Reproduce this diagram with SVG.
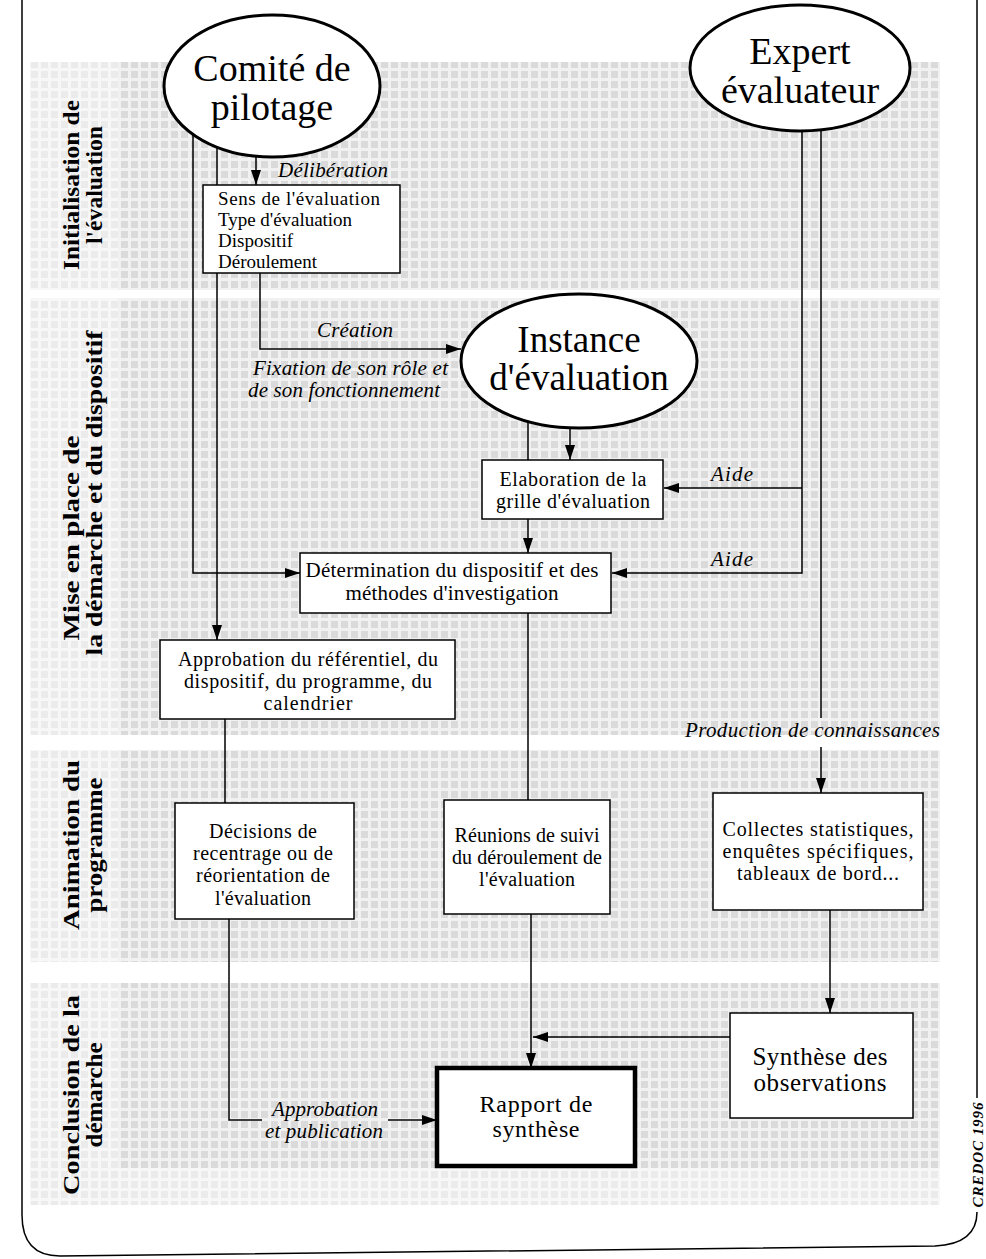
<svg xmlns="http://www.w3.org/2000/svg" width="986" height="1259" viewBox="0 0 986 1259">
<defs>
<pattern id="ht" width="10" height="10" patternUnits="userSpaceOnUse"><rect width="10" height="10" fill="#f1f1f1"/><rect x="1" y="1" width="7" height="7" fill="#dadada"/></pattern>
<pattern id="htl" width="10" height="10" patternUnits="userSpaceOnUse"><rect width="10" height="10" fill="#f7f7f7"/><rect x="1" y="1" width="7" height="7" fill="#ebebeb"/></pattern>
<marker id="ah" viewBox="0 0 15 10" refX="15" refY="5" markerWidth="15" markerHeight="10" orient="auto" markerUnits="userSpaceOnUse"><path d="M0,0 L15,5 L0,10 z" fill="#000"/></marker>
</defs>
<style>
.box{fill:#fff;stroke:#000;stroke-width:1.5}
.ell{fill:#fff;stroke:#000;stroke-width:3}
.t{font-family:"Liberation Serif","Times New Roman",serif;fill:#000;text-anchor:middle}
.s{text-anchor:start}
.it{font-style:italic;font-size:21px}
.ln{fill:none;stroke:#000;stroke-width:1.5}
.arr{marker-end:url(#ah)}
.side{font-weight:bold;font-size:24px}
</style>
<rect width="986" height="1259" fill="#fff"/>
<g id="background">
<rect x="30" y="62" width="88" height="228" fill="url(#htl)"/>
<rect x="30" y="298" width="88" height="437" fill="url(#htl)"/>
<rect x="30" y="750" width="88" height="212" fill="url(#htl)"/>
<rect x="30" y="983" width="88" height="222" fill="url(#htl)"/>
<rect x="118" y="62" width="822" height="228" fill="url(#ht)"/>
<rect x="118" y="298" width="822" height="437" fill="url(#ht)"/>
<rect x="118" y="750" width="822" height="212" fill="url(#ht)"/>
<rect x="118" y="983" width="822" height="185" fill="url(#ht)"/>
<rect x="118" y="1168" width="822" height="37" fill="url(#htl)"/>
</g>
<g id="frame">
<path class="ln" d="M22,0 V1215 Q22,1256 60,1256 L935,1246 Q977,1244 977,1212"/>
<path class="ln" d="M977,0 V1098"/>
<text class="t" x="983" y="1155" transform="rotate(-90 983 1155)" style="font-weight:bold;font-style:italic;font-size:15px" textLength="105">CREDOC 1996</text>
</g>
<g id="phase-labels">
<text class="t side" x="79" y="185" transform="rotate(-90 79 185)" textLength="170" lengthAdjust="spacingAndGlyphs">Initialisation de</text>
<text class="t side" x="102" y="185" transform="rotate(-90 102 185)" textLength="118" lengthAdjust="spacingAndGlyphs">l'évaluation</text>
<text class="t side" x="79" y="538" transform="rotate(-90 79 538)" textLength="205" lengthAdjust="spacingAndGlyphs">Mise en place de</text>
<text class="t side" x="102" y="493" transform="rotate(-90 102 493)" textLength="325" lengthAdjust="spacingAndGlyphs">la démarche et du dispositif</text>
<text class="t side" x="79" y="845" transform="rotate(-90 79 845)" textLength="170" lengthAdjust="spacingAndGlyphs">Animation du</text>
<text class="t side" x="102" y="845" transform="rotate(-90 102 845)" textLength="135" lengthAdjust="spacingAndGlyphs">programme</text>
<text class="t side" x="79" y="1095" transform="rotate(-90 79 1095)" textLength="200" lengthAdjust="spacingAndGlyphs">Conclusion de la</text>
<text class="t side" x="102" y="1095" transform="rotate(-90 102 1095)" textLength="105" lengthAdjust="spacingAndGlyphs">démarche</text>
</g>
<g id="connectors">
<path class="ln arr" d="M193,134 V573 H300"/>
<path class="ln arr" d="M217,147 V640"/>
<path class="ln arr" d="M256,156 V185"/>
<path class="ln arr" d="M260,273 V349 H461"/>
<path class="ln arr" d="M570,428 V460"/>
<path class="ln arr" d="M528,421 V553"/>
<path class="ln arr" d="M802,131 V573 H612"/>
<path class="ln arr" d="M802,488 H664"/>
<path class="ln" d="M821,130 V718"/>
<path class="ln arr" d="M821,747 V793"/>
<path class="ln" d="M225,719 V803"/>
<path class="ln" d="M528,613 V800"/>
<path class="ln" d="M229,919 V1120 H262"/>
<path class="ln arr" d="M388,1120 H437"/>
<path class="ln arr" d="M531,914 V1068"/>
<path class="ln arr" d="M730,1037 H533"/>
<path class="ln arr" d="M830,910 V1013"/>
<text class="t s it" x="278" y="177" textLength="110">Délibération</text>
<text class="t s it" x="317" y="337" textLength="76">Création</text>
<text class="t s it" x="253" y="375" textLength="195">Fixation de son rôle et</text>
<text class="t s it" x="248" y="397" textLength="192">de son fonctionnement</text>
<text class="t s it" x="711" y="481" textLength="42">Aide</text>
<text class="t s it" x="711" y="566" textLength="42">Aide</text>
<text class="t s it" x="685" y="737" textLength="255">Production de connaissances</text>
<text class="t s it" x="272" y="1116" textLength="106">Approbation</text>
<text class="t s it" x="265" y="1138" textLength="118">et publication</text>
</g>
<g id="comite">
<ellipse class="ell" cx="272" cy="86" rx="108" ry="71"/>
<text class="t" x="272" y="81" font-size="38">Comité de</text>
<text class="t" x="272" y="120" font-size="38">pilotage</text>
</g>
<g id="expert">
<ellipse class="ell" cx="800" cy="68" rx="110" ry="63"/>
<text class="t" x="800" y="64" font-size="38">Expert</text>
<text class="t" x="800" y="103" font-size="38">évaluateur</text>
</g>
<g id="instance">
<ellipse class="ell" cx="579" cy="361" rx="118" ry="67"/>
<text class="t" x="579" y="352" font-size="37">Instance</text>
<text class="t" x="579" y="390" font-size="37">d'évaluation</text>
</g>
<g id="sens">
<rect class="box" x="203" y="185" width="197" height="88"/>
<text class="t s" x="218" y="205" font-size="19" textLength="162">Sens de l'évaluation</text>
<text class="t s" x="218" y="226" font-size="19" textLength="134">Type d'évaluation</text>
<text class="t s" x="218" y="247" font-size="19" textLength="75">Dispositif</text>
<text class="t s" x="218" y="268" font-size="19" textLength="99">Déroulement</text>
</g>
<g id="elaboration">
<rect class="box" x="482" y="460" width="181" height="59"/>
<text class="t" x="573" y="486" font-size="20" textLength="147">Elaboration de la</text>
<text class="t" x="573" y="508" font-size="20" textLength="154">grille d'évaluation</text>
</g>
<g id="determination">
<rect class="box" x="300" y="553" width="311" height="60"/>
<text class="t" x="452" y="577" font-size="21" textLength="293">Détermination du dispositif et des</text>
<text class="t" x="452" y="600" font-size="21" textLength="213">méthodes d'investigation</text>
</g>
<g id="approbation">
<rect class="box" x="160" y="640" width="295" height="79"/>
<text class="t" x="308" y="666" font-size="20" textLength="260">Approbation du référentiel, du</text>
<text class="t" x="308" y="688" font-size="20" textLength="248">dispositif, du programme, du</text>
<text class="t" x="308" y="710" font-size="20" textLength="89">calendrier</text>
</g>
<g id="decisions">
<rect class="box" x="175" y="803" width="179" height="116"/>
<text class="t" x="263" y="838" font-size="20" textLength="108">Décisions de</text>
<text class="t" x="263" y="860" font-size="20" textLength="140">recentrage ou de</text>
<text class="t" x="263" y="882" font-size="20" textLength="134">réorientation de</text>
<text class="t" x="263" y="905" font-size="20" textLength="96">l'évaluation</text>
</g>
<g id="reunions">
<rect class="box" x="444" y="800" width="166" height="114"/>
<text class="t" x="527" y="842" font-size="20" textLength="145">Réunions de suivi</text>
<text class="t" x="527" y="864" font-size="20" textLength="150">du déroulement de</text>
<text class="t" x="527" y="886" font-size="20" textLength="96">l'évaluation</text>
</g>
<g id="collectes">
<rect class="box" x="713" y="793" width="210" height="117"/>
<text class="t" x="818" y="836" font-size="20" textLength="191">Collectes statistiques,</text>
<text class="t" x="818" y="858" font-size="20" textLength="191">enquêtes spécifiques,</text>
<text class="t" x="818" y="880" font-size="20" textLength="162">tableaux de bord...</text>
</g>
<g id="synthese">
<rect class="box" x="730" y="1013" width="183" height="105"/>
<text class="t" x="820" y="1065" font-size="25" textLength="135">Synthèse des</text>
<text class="t" x="820" y="1091" font-size="25" textLength="133">observations</text>
</g>
<g id="rapport">
<rect class="box" x="437" y="1068" width="198" height="98" style="stroke-width:4.5"/>
<text class="t" x="536" y="1112" font-size="24" textLength="113">Rapport de</text>
<text class="t" x="536" y="1137" font-size="24" textLength="87">synthèse</text>
</g>
</svg>
